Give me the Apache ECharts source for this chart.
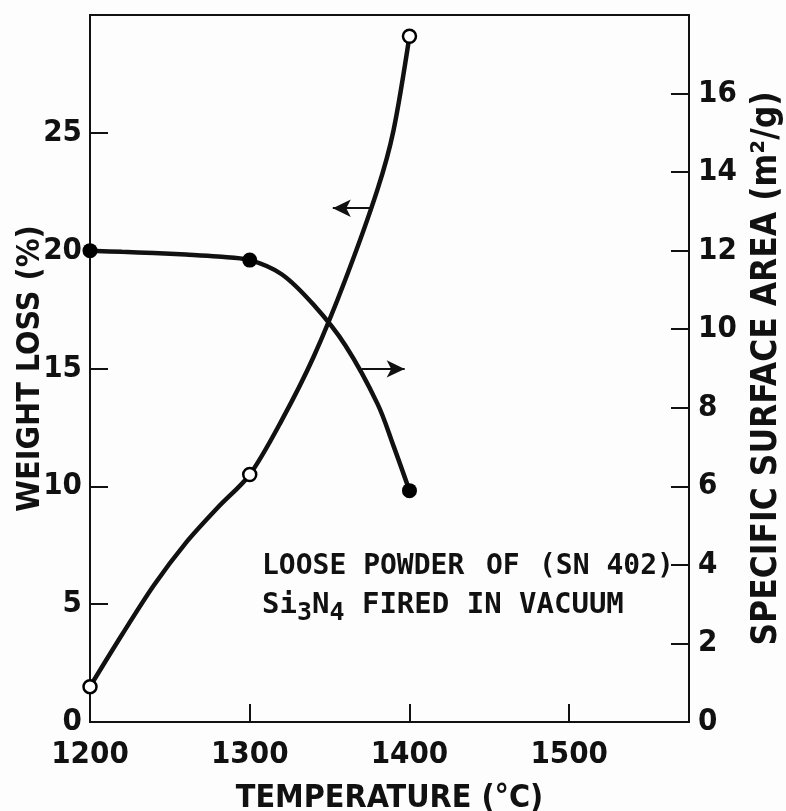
<!DOCTYPE html>
<html>
<head>
<meta charset="utf-8">
<title>Weight loss and surface area vs temperature</title>
<script src="https://cdn.jsdelivr.net/npm/echarts@6/dist/echarts.min.js"></script>
<style>
	html, body { margin: 0; padding: 0; background: #fdfdfd; }
	#chart { width: 786px; height: 811px; }
</style>
</head>
<body>
<div id="chart"></div>
<script>
// measured points
var temps = [1200, 1300, 1400];
var weightLoss = [1.5, 10.5, 29.1];        // open circles, left axis (%)
var surfaceArea = [12.0, 11.76, 5.89];     // filled circles, right axis (m2/g)

// points
var wlCurveT = [1200, 1220, 1240, 1260, 1280, 1300, 1320, 1340, 1360, 1380, 1390, 1400];
var wlCurveV = [1.5, 3.7, 5.8, 7.6, 9.1, 10.5, 12.8, 15.5, 18.8, 22.6, 25.1, 29.1];
var saCurveT = [1200, 1220, 1240, 1260, 1280, 1300, 1320, 1340, 1360, 1380, 1390, 1400];
var saCurveV = [12.0, 11.97, 11.94, 11.9, 11.85, 11.76, 11.4, 10.62, 9.58, 8.1, 7.03, 5.89];

// tick labels
var xTicks = [1200, 1300, 1400, 1500];

var font = "'DejaVu Sans Condensed', 'Liberation Sans Narrow', sans-serif";
var mono = "'DejaVu Sans Mono', 'Liberation Mono', monospace";
var ink = '#111';

function pairs(xs, ys) {
	return xs.map(function(x, i) { return [x, ys[i]]; });
}

var chart = echarts.init(document.getElementById('chart'));

var labelStyle = {
	color: ink,
	fontFamily: font,
	fontWeight: 'bold',
	fontSize: 31
};
var nameStyle = {
	color: ink,
	fontFamily: font,
	fontWeight: 'bold',
	fontSize: 32
};

// annotation text pieces (stencil lettering, roughly fixed pitch)
function note(text, left, top) {
	return {
		type: 'text',
		left: left,
		top: top,
		style: { text: text, fill: ink, font: 'bold 28px ' + mono }
	};
}

chart.setOption({
	backgroundColor: '#fdfdfd',
	animation: false,
	grid: {
		left: 90,
		right: 97,
		top: 15,
		bottom: 89,
		containLabel: false,
		outerBoundsMode: 'none',
		show: true,
		borderColor: ink,
		borderWidth: 2,
		backgroundColor: 'transparent'
	},
	xAxis: {
		type: 'value',
		min: 1200,
		max: 1575,
		interval: 100,
		name: 'TEMPERATURE (°C)',
		nameLocation: 'middle',
		nameGap: 61,
		nameMoveOverlap: false,
		nameTextStyle: nameStyle,
		axisLine: { lineStyle: { color: ink, width: 2 } },
		axisTick: { inside: true, length: 18, lineStyle: { color: ink, width: 2 } },
		axisLabel: Object.assign({
			margin: 17,
			formatter: function(v) { return xTicks.indexOf(v) >= 0 ? String(v) : ''; }
		}, labelStyle),
		splitLine: { show: false }
	},
	yAxis: [{
		type: 'value',
		min: 0,
		max: 30,
		interval: 5,
		position: 'left',
		name: 'WEIGHT LOSS (%)',
		nameLocation: 'middle',
		nameRotate: 90,
		nameGap: 43,
		nameMoveOverlap: false,
		nameTextStyle: nameStyle,
		axisLine: { show: true, lineStyle: { color: ink, width: 2 } },
		axisTick: { show: true, inside: true, length: 18, lineStyle: { color: ink, width: 2 } },
		axisLabel: Object.assign({
			margin: 8,
			formatter: function(v) { return v === 30 ? '' : String(v); }
		}, labelStyle),
		splitLine: { show: false }
	}, {
		type: 'value',
		min: 0,
		max: 18,
		interval: 2,
		position: 'right',
		name: 'SPECIFIC SURFACE AREA (m²/g)',
		nameLocation: 'middle',
		nameRotate: 90,
		nameGap: 60,
		nameMoveOverlap: false,
		nameTextStyle: Object.assign({}, nameStyle, { fontSize: 35 }),
		axisLine: { show: true, lineStyle: { color: ink, width: 2 } },
		axisTick: { show: true, inside: true, length: 18, lineStyle: { color: ink, width: 2 } },
		axisLabel: Object.assign({
			margin: 9,
			formatter: function(v) { return v === 18 ? '' : String(v); }
		}, labelStyle),
		splitLine: { show: false }
	}],
	series: [{
		// weight loss curve
		type: 'line',
		yAxisIndex: 0,
		data: pairs(wlCurveT, wlCurveV),
		smooth: 0.3,
		showSymbol: false,
		lineStyle: { color: ink, width: 4.5 },
		z: 2
	}, {
		// surface area curve
		type: 'line',
		yAxisIndex: 1,
		data: pairs(saCurveT, saCurveV),
		smooth: 0.35,
		showSymbol: false,
		lineStyle: { color: ink, width: 4.5 },
		z: 2
	}, {
		type: 'scatter',
		yAxisIndex: 0,
		data: pairs(temps, weightLoss),
		symbol: 'circle',
		symbolSize: 13,
		clip: false,
		itemStyle: { color: '#fff', borderColor: '#000', borderWidth: 2.5, opacity: 1 },
		z: 4,
		markLine: {
			silent: true,
			symbol: ['none', 'arrow'],
			symbolSize: [13, 18],
			lineStyle: { color: ink, width: 2, type: 'solid' },
			label: { show: false },
			data: [[{ coord: [1376, 21.8] }, { coord: [1352, 21.8] }]]
		}
	}, {
		type: 'scatter',
		yAxisIndex: 1,
		data: pairs(temps, surfaceArea),
		symbol: 'circle',
		symbolSize: 15,
		clip: false,
		itemStyle: { color: '#000', opacity: 1 },
		z: 4,
		markLine: {
			silent: true,
			symbol: ['none', 'arrow'],
			symbolSize: [13, 18],
			lineStyle: { color: ink, width: 2, type: 'solid' },
			label: { show: false },
			data: [[{ coord: [1370, 8.99] }, { coord: [1397, 8.99] }]]
		}
	}],
	graphic: [
		note('LOOSE POWDER', 262, 553),
		note('OF', 486, 553),
		note('(SN 402)', 539, 553),
		{
			type: 'text',
			left: 262,
			top: 591,
			style: {
				text: 'Si{sub|3}N{sub|4} FIRED IN VACUUM',
				fill: ink,
				fontFamily: mono,
				fontWeight: 'bold',
				fontSize: 29,
				rich: {
					sub: { fontFamily: mono, fontWeight: 'bold', fontSize: 25, padding: [16, 0, 0, 0], fill: ink }
				}
			}
		}
	]
});

window.onresize = function() {
	chart.resize();
};
</script>
</body>
</html>
